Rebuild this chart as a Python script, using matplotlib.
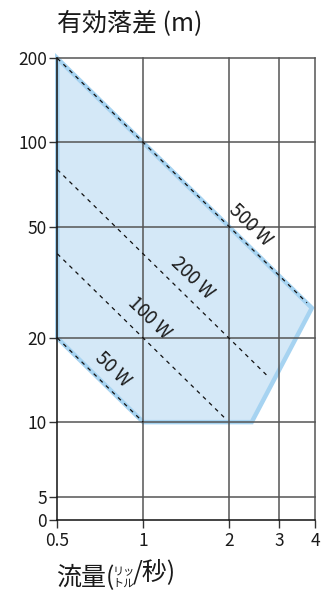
import numpy as np
import matplotlib
matplotlib.use("Agg")
import matplotlib.pyplot as plt
from matplotlib.patches import Polygon

plt.rcParams['font.family'] = ['Noto Sans CJK JP', 'DejaVu Sans']

# ---- data ----
x_ticks = [0.5, 1, 2, 3, 4]
x_tick_labels = ["0.5", "1", "2", "3", "4"]
y_ticks = [0, 5, 10, 20, 50, 100, 200]
y_tick_labels = ["0", "5", "10", "20", "50", "100", "200"]

region_q = [0.5, 3.9, 2.4, 1.0, 0.5]
region_h = [200, 25.6, 10, 10, 20]

watts = ["500 W", "200 W", "100 W", "50 W"]
line_q0 = [0.5, 0.5, 0.5, 0.5]
line_h0 = [200, 80, 40, 20]
line_q1 = [3.75, 2.75, 1.95, 1.0]
line_h1 = [26.7, 14.5, 10.25, 10]

label_q = [2.37, 1.49, 1.05, 0.785]
label_h = [50.5, 32.8, 23.6, 15.4]

# ---- custom y scale: log above 10, compressed linear below ----
A = 75 / 280.0   # 10 -> 5
B = 23 / 280.0   # 5 -> 0


def fwd(h):
    h = np.asarray(h, dtype=float)
    hl = np.log10(np.maximum(h, 1e-9))
    mid = 1 - (10 - h) / 5 * A
    low = 1 - A - (5 - h) / 5 * B
    return np.where(h >= 10, hl, np.where(h >= 5, mid, low))


def inv(v):
    v = np.asarray(v, dtype=float)
    hi = 10 ** np.minimum(v, 10)
    mid = 10 - (1 - v) / A * 5
    low = 5 - (1 - A - v) / B * 5
    return np.where(v >= 1, hi, np.where(v >= 1 - A, mid, low))


fig = plt.figure(figsize=(3.22, 5.96), dpi=100)
ax = fig.add_axes([57.3 / 322, 1 - 520 / 596, (315 - 57.3) / 322, (520 - 58.3) / 596])
ax.set_xscale('log')
ax.set_yscale('function', functions=(fwd, inv))
ax.set_xlim(0.5, 4)
ax.set_ylim(0, 200)

fill_c = '#d4e8f7'
edge_c = '#a6d3f1'
poly = Polygon(list(zip(region_q, region_h)), closed=True, facecolor=fill_c,
               edgecolor=edge_c, linewidth=3.2, zorder=1, clip_on=False)
ax.add_patch(poly)

grid_c = '#555555'
for q in x_ticks[1:]:
    ax.axvline(q, color=grid_c, lw=1.1, zorder=2, clip_on=False)
for h in y_ticks[1:]:
    ax.axhline(h, color=grid_c, lw=1.1, zorder=2, clip_on=False)

for q0, h0, q1, h1 in zip(line_q0, line_h0, line_q1, line_h1):
    ax.plot([q0, q1], [h0, h1], color='#111111', lw=0.9,
            dashes=(3.2, 3.6), zorder=3)

for t, q, h in zip(watts, label_q, label_h):
    ax.text(q, h, t, rotation=-44, rotation_mode='anchor', ha='center',
            va='center', fontsize=13.5, color='#1a1a1a', zorder=4)

for s in ['top', 'right']:
    ax.spines[s].set_visible(False)
for s in ['left', 'bottom']:
    ax.spines[s].set_color('#111111')
    ax.spines[s].set_linewidth(1.1)
    ax.spines[s].set_zorder(5)

ax.set_xticks(x_ticks)
ax.set_xticklabels(x_tick_labels)
ax.xaxis.set_minor_locator(matplotlib.ticker.NullLocator())
ax.set_yticks(y_ticks)
ax.set_yticklabels(y_tick_labels)
ax.yaxis.set_minor_locator(matplotlib.ticker.NullLocator())
ax.tick_params(axis='both', direction='out', length=6, width=1.0,
               color='#333333', labelsize=12.5, labelcolor='#1a1a1a', pad=1.5)
ax.tick_params(axis='x', pad=3)

fig.text(57 / 322, 1 - 24 / 596, "有効落差 (m)", fontsize=18, va='center',
         ha='left', color='#1a1a1a')

t1 = fig.text(56 / 322, 1 - 578 / 596, "流量(", fontsize=18, va='center',
              ha='left', color='#1a1a1a')
t2 = ax.annotate("リッ", xy=(1, 0.5), xycoords=t1, xytext=(-1.5, 0.5), textcoords='offset points',
                 fontsize=8, va='bottom', ha='left', color='#1a1a1a',
                 annotation_clip=False)
t3 = ax.annotate("トル", xy=(1, 0.5), xycoords=t1, xytext=(-1.5, -0.5), textcoords='offset points',
                 fontsize=8, va='top', ha='left', color='#1a1a1a',
                 annotation_clip=False)
ax.annotate("/秒)", xy=(1, 0.5), xycoords=t2, xytext=(-1.5, 0), textcoords='offset points',
            fontsize=18, va='center', ha='left', color='#1a1a1a',
            annotation_clip=False)

fig.savefig("out.png", dpi=100)
